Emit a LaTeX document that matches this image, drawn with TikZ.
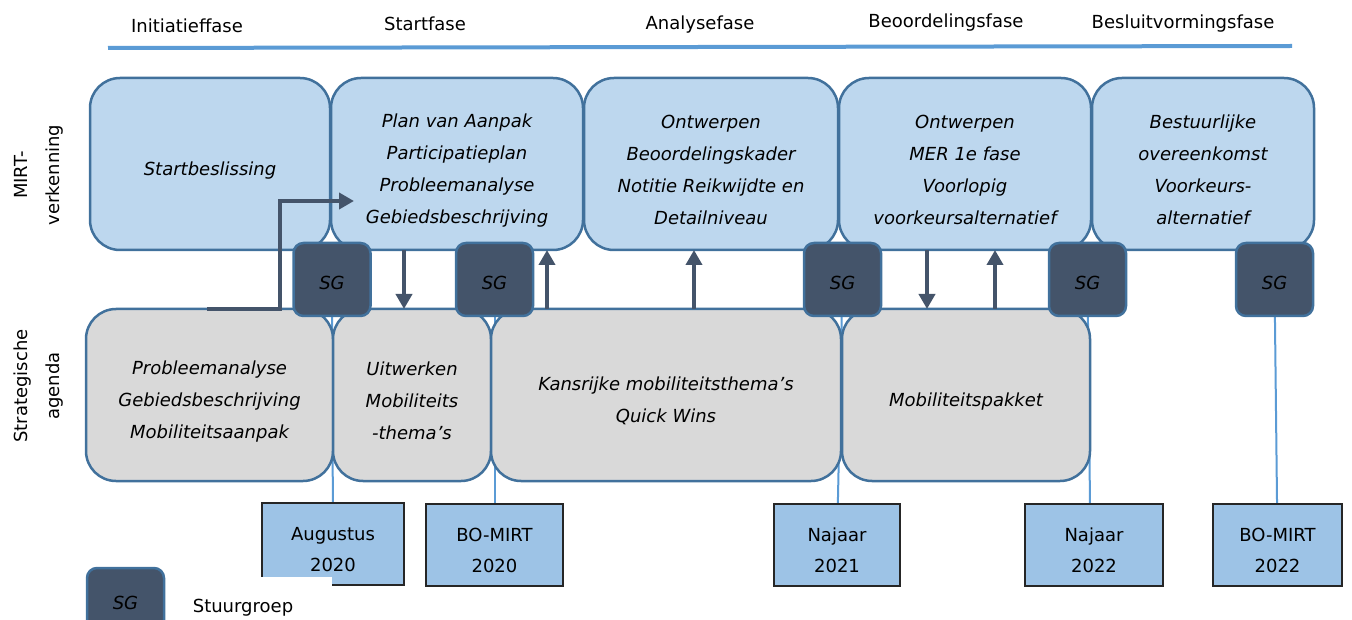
\documentclass[tikz,border=0pt]{standalone}
\usepackage{fontspec}
\setmainfont{DejaVu Sans}
\usetikzlibrary{arrows.meta,backgrounds}
\definecolor{boxblue}{HTML}{BDD7EE}
\definecolor{boxgray}{HTML}{D9D9D9}
\definecolor{rimblue}{HTML}{41719C}
\definecolor{lineblue}{HTML}{5B9BD5}
\definecolor{sgdark}{HTML}{44546A}
\definecolor{dateblue}{HTML}{9DC3E6}
\newcommand\liftbox{\rule{0pt}{26pt}}
\newcommand\liftdate{\rule{0pt}{24pt}}
\begin{document}
\begin{tikzpicture}[x=1pt, y=-1pt,
    every node/.style={inner sep=0pt, outer sep=0pt},
    phase/.style={anchor=base, font=\fontsize{18}{22}\selectfont},
    side/.style={rotate=90, align=center, font=\fontsize{18}{32}\selectfont},
    verk/.style={draw=rimblue, line width=2.5pt, fill=boxblue, rounded corners=30pt,
        minimum height=172pt, align=center, font=\fontsize{18}{32}\selectfont\itshape},
    agenda/.style={verk, fill=boxgray},
    sg/.style={draw=rimblue, line width=2.5pt, fill=sgdark, rounded corners=10pt,
        minimum width=77pt, minimum height=73pt, font=\fontsize{18}{22}\selectfont\itshape,
        execute at begin node={\rule{0pt}{19.5pt}}},
    date/.style={draw=black!85, line width=1.5pt, fill=dateblue, minimum height=82pt,
        align=center, font=\fontsize{18}{31}\selectfont},
    flow/.style={draw=sgdark, line width=4pt, -{Triangle[length=15pt,width=16pt]}},
    tie/.style={draw=lineblue, line width=2pt}]

    \useasboundingbox (0,0) rectangle (1352,620);

    \node[phase] (p1) at (187,33) {Initiatieffase};
    \node[phase] (p2) at (425,31) {Startfase};
    \node[phase] (p3) at (700,30) {Analysefase};
    \node[phase] (p4) at (946,28) {Beoordelingsfase};
    \node[phase] (p5) at (1183,29) {Besluitvormingsfase};
    \draw[line width=4pt, lineblue] (108,48) -- (1292,46);

    \node[side] (s1) at (39,175) {MIRT-\\verkenning};
    \node[side] (s2) at (39,386) {Strategische\\agenda};

    \node[verk, minimum width=240pt] (v1) at (210,164) {\liftbox Startbeslissing};
    \node[verk, minimum width=252pt] (v2) at (457,164) {\liftbox Plan van Aanpak\\Participatieplan\\Probleemanalyse\\Gebiedsbeschrijving};
    \node[verk, minimum width=254pt] (v3) at (711,164) {\liftbox Ontwerpen\\Beoordelingskader\\Notitie Reikwijdte en\\Detailniveau};
    \node[verk, minimum width=252pt] (v4) at (965,164) {\liftbox Ontwerpen\\MER 1e fase\\Voorlopig\\voorkeursalternatief};
    \node[verk, minimum width=222pt] (v5) at (1203,164) {\liftbox Bestuurlijke\\overeenkomst\\Voorkeurs-\\alternatief};

    \node[agenda, minimum width=247pt] (a1) at (209.5,395) {\liftbox Probleemanalyse\\Gebiedsbeschrijving\\Mobiliteitsaanpak};
    \node[agenda, minimum width=158pt] (a2) at (412,395) {\liftbox Uitwerken\\Mobiliteits\\-thema's};
    \node[agenda, minimum width=350pt] (a3) at (666,395) {\liftbox Kansrijke mobiliteitsthema's\\Quick Wins};
    \node[agenda, minimum width=248pt] (a4) at (966,395) {\liftbox Mobiliteitspakket};

    \node[sg] (sg1) at (332,279.5) {SG};
    \node[sg] (sg2) at (494.5,279.5) {SG};
    \node[sg] (sg3) at (842.5,279.5) {SG};
    \node[sg] (sg4) at (1087.5,279.5) {SG};
    \node[sg] (sg5) at (1274.5,279.5) {SG};

    \node[date, minimum width=142pt] (d1) at (333,544) {\liftdate Augustus\\2020};
    \node[date, minimum width=137pt] (d2) at (494.5,545) {\liftdate BO-MIRT\\2020};
    \node[date, minimum width=126pt] (d3) at (837,545) {\liftdate Najaar\\2021};
    \node[date, minimum width=138pt] (d4) at (1094,545) {\liftdate Najaar\\2022};
    \node[date, minimum width=129pt] (d5) at (1277.5,545) {\liftdate BO-MIRT\\2022};
    \fill[white] (261,577) rectangle (332,590);

    \begin{scope}[on background layer]
        \draw[tie] (sg1) -- (d1);
        \draw[tie] (sg2) -- (d2);
        \draw[tie] (sg3) -- (d3);
        \draw[tie] (sg4) -- (d4.north -| 1090,0);
        \draw[tie] (sg5) -- (d5);
    \end{scope}

    \coordinate (tip) at (354,201);
    \draw[flow] (a1.north -| 207,0) -| (tip -| 280,0) -- (tip);
    \draw[flow] (v2.south -| 404,0) -- (a2.north -| 404,0);
    \draw[flow] (a3.north -| 547,0) -- (v2.south -| 547,0);
    \draw[flow] (a3.north -| 694,0) -- (v3.south -| 694,0);
    \draw[flow] (v4.south -| 927,0) -- (a4.north -| 927,0);
    \draw[flow] (a4.north -| 995,0) -- (v4.south -| 995,0);

    \node[sg, execute at begin node={\rule[-9pt]{0pt}{1pt}}] (sg0) at (125.5,604.5) {SG};
    \node[anchor=base, font=\fontsize{18}{22}\selectfont] (leg) at (243,612) {Stuurgroep};
\end{tikzpicture}
\end{document}
